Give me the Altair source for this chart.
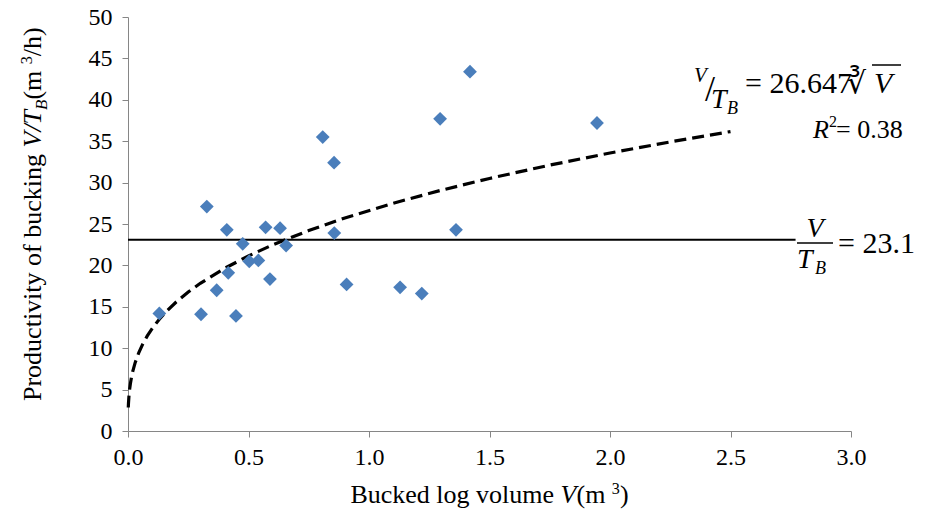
import altair as alt
import pandas as pd

# ---------------- data ----------------
volume = [0.13, 0.327, 0.303, 0.41, 0.368, 0.416, 0.448, 0.476, 0.503, 0.541,
          0.571, 0.589, 0.631, 0.656, 0.808, 0.855, 0.856, 0.907, 1.129, 1.219,
          1.295, 1.361, 1.419, 1.946]
productivity = [14.2, 27.1, 14.1, 24.3, 17.0, 19.1, 13.9, 22.6, 20.5, 20.6,
                24.6, 18.35, 24.5, 22.4, 35.5, 32.4, 23.9, 17.7, 17.35, 16.6,
                37.7, 24.3, 43.4, 37.2]
mean_value = 23.1
mean_span = [0.0, 2.77]
trend_coef = 26.647
trend_v = [0.0012, 0.002, 0.004, 0.007, 0.01, 0.015, 0.02, 0.03, 0.045, 0.06,
           0.08, 0.1, 0.13, 0.16, 0.2, 0.25, 0.3, 0.4, 0.5, 0.6, 0.75, 0.9,
           1.1, 1.3, 1.5, 1.75, 2.0, 2.25, 2.5]
x_ticks = [0.0, 0.5, 1.0, 1.5, 2.0, 2.5, 3.0]
y_ticks = [0, 5, 10, 15, 20, 25, 30, 35, 40, 45, 50]

# ---------------- layout ----------------
W, H = 723, 414
PAD = {"left": 120, "top": 9, "right": 66, "bottom": 82}
OX, OY = 128, 17          # page position of plot origin
SERIF = "Liberation Serif, Times New Roman, serif"

points_df = pd.DataFrame({"V": volume, "P": productivity})
mean_df = pd.DataFrame({"V": mean_span, "P": [mean_value] * len(mean_span)})
trend_df = pd.DataFrame({"V": trend_v})

xs = alt.Scale(domain=[0, 3], nice=False, zero=False)
ys = alt.Scale(domain=[0, 50], nice=False)

x_axis = alt.Axis(values=x_ticks, format=".1f", title=None, grid=False,
                  labelFont=SERIF, labelFontSize=24, labelColor="black",
                  domainColor="#868686", tickColor="#868686", tickSize=6,
                  labelPadding=8, labelFlush=False)
y_axis = alt.Axis(values=y_ticks, format="d", title=None, grid=False,
                  labelFont=SERIF, labelFontSize=24, labelColor="black",
                  domainColor="#868686", tickColor="#868686", tickSize=6,
                  labelPadding=10)

points = alt.Chart(points_df).mark_point(
    shape="diamond", filled=True, size=190, color="#4a7ebb", opacity=1
).encode(
    x=alt.X("V:Q", scale=xs, axis=x_axis),
    y=alt.Y("P:Q", scale=ys, axis=y_axis),
)

mean_line = alt.Chart(mean_df).mark_line(color="black", strokeWidth=2).encode(
    x=alt.X("V:Q", scale=xs), y=alt.Y("P:Q", scale=ys)
)

trend = alt.Chart(trend_df).transform_calculate(
    P=f"{trend_coef} * pow(datum.V, 1/3)"
).mark_line(color="black", strokeWidth=3.2, strokeDash=[12, 6]).encode(
    x=alt.X("V:Q", scale=xs), y=alt.Y("P:Q", scale=ys)
)

# ---------------- text helpers ----------------
REG = {" ": 250, "(": 333, ")": 333, "/": 278, ".": 250, "=": 564,
       "B": 667, "P": 556, "R": 667, "T": 611, "V": 722,
       "a": 444, "b": 500, "c": 444, "d": 500, "e": 444, "f": 333, "g": 500,
       "h": 500, "i": 278, "k": 500, "l": 278, "m": 778, "n": 500, "o": 500,
       "r": 333, "t": 278, "u": 500, "v": 500, "y": 500}
ITA = {"V": 611, "T": 556, "B": 611, "R": 611, "/": 278}


def tw(s, italic, size):
    tab = ITA if italic else REG
    return sum(tab.get(c, REG.get(c, 500)) for c in s) / 1000.0 * size


layers = []


def txt(s, px, py, size, italic=False, angle=0, align="left", font=SERIF):
    kw = dict(font=font, fontSize=size, color="black", align=align,
              baseline="alphabetic")
    if italic:
        kw["fontStyle"] = "italic"
    if angle:
        kw["angle"] = angle
    layers.append(
        alt.Chart(pd.DataFrame({"t": [s]})).mark_text(**kw).encode(
            text="t:N", x=alt.value(px - OX), y=alt.value(py - OY)
        )
    )


def rule(px1, px2, py, width):
    layers.append(
        alt.Chart(pd.DataFrame({"t": [0]})).mark_rule(
            color="black", strokeWidth=width
        ).encode(x=alt.value(px1 - OX), x2=alt.value(px2 - OX),
                 y=alt.value(py - OY))
    )


# x-axis title  "Bucked log volume V (m3)"
TS = 26
xt = [("Bucked log volume ", False, 1.0, 0), ("V", True, 1.0, 0),
      (" (m", False, 1.0, 0), ("3", False, 0.62, -0.36), (")", False, 1.0, 0)]
total = sum(tw(s, it, TS * sc) for s, it, sc, _ in xt)
cx = OX + W / 2 - total / 2
for s, it, sc, off in xt:
    txt(s, cx, 503 + off * TS, TS * sc, italic=it)
    cx += tw(s, it, TS * sc)

# y-axis title  "Productivity of bucking V/T_B (m3/h)"  (rotated)
yt = [("Productivity of bucking ", False, 1.0, 0), ("V/T", True, 1.0, 0),
      ("B", True, 0.65, 0.22), (" (m", False, 1.0, 0),
      ("3", False, 0.62, -0.36), ("/h)", False, 1.0, 0)]
cy = 401
for s, it, sc, off in yt:
    txt(s, 41 + off * TS, cy, TS * sc, italic=it, angle=270)
    cy -= tw(s, it, TS * sc)

# trend equation  V/T_B = 26.647 cbrt(V)
txt("V", 694, 82, 21, italic=True)
txt("/", 705, 101, 36)
txt("T", 711, 108, 28, italic=True)
txt("B", 727, 114, 18, italic=True)
txt("= 26.647", 745, 93, 30)
txt("\u221b", 847, 93, 30)
txt("V", 874, 93, 30, italic=True)
rule(872, 901, 65, 1.5)

# R^2
txt("R", 813, 138, 26, italic=True)
txt("2", 829, 127, 16)
txt("= 0.38", 836, 138, 26)

# mean equation  V / T_B = 23.1
txt("V", 815, 237, 28, italic=True, align="center")
rule(797, 833, 243, 1.5)
txt("T", 797, 268, 28, italic=True)
txt("B", 815, 274, 18, italic=True)
txt("= 23.1", 838, 253, 30)

chart = alt.layer(mean_line, trend, points, *layers).properties(
    width=W, height=H, padding=PAD,
    autosize=alt.AutoSizeParams(type="none"),
).configure(
    font=SERIF, background="white", view=alt.ViewConfig(stroke=None)
)

chart.save("out.html", embed_options={"renderer": "svg", "actions": False})
